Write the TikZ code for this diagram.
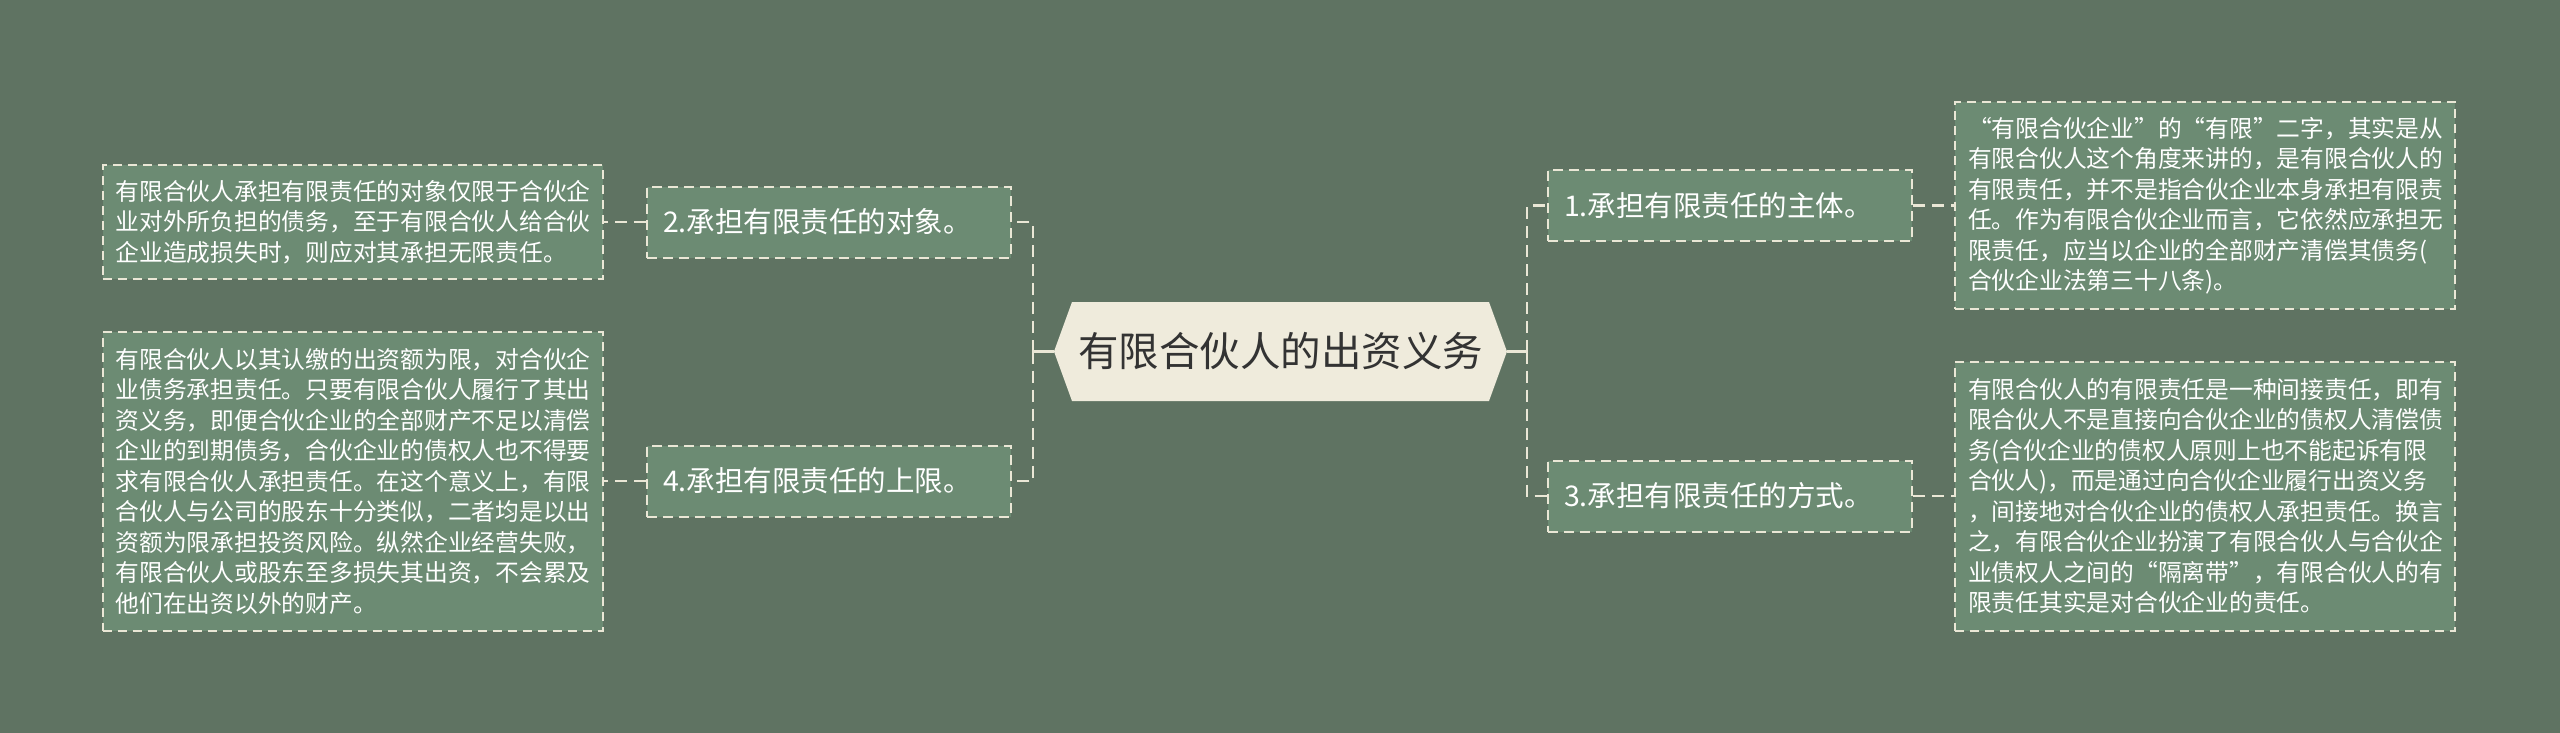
\documentclass[tikz,border=0pt]{standalone}
\usepackage{fontspec}
\setmainfont{Noto Sans CJK SC}
\usetikzlibrary{calc}
\definecolor{bgcol}{HTML}{5F7362}
\definecolor{boxfill}{HTML}{6C8B73}
\definecolor{cream}{HTML}{EFEBDC}
\definecolor{linecol}{HTML}{EAE7D6}
\definecolor{hubtext}{HTML}{333333}
\tikzset{
  topicbox/.style={draw=linecol, line width=2pt, dash pattern=on 10pt off 6pt, fill=boxfill,
    text=white, font=\fontsize{28.5pt}{34pt}\selectfont, align=left, text width=332pt,
    inner xsep=16pt, inner ysep=0pt, minimum height=71pt},
  detailbox/.style={draw=linecol, line width=2pt, dash pattern=on 9pt off 6pt, fill=boxfill,
    text=white, font=\fontsize{23.75pt}{30.5pt}\selectfont, align=left, text width=474pt,
    inner xsep=13pt, inner ysep=0pt},
  dashcon/.style={draw=linecol, line width=2.5pt, dash pattern=on 12pt off 7pt},
  solidcon/.style={draw=linecol, line width=2.5pt},
  hubnode/.style={fill=bgcol, minimum width=453pt, minimum height=99pt, inner sep=0pt,
    text=hubtext, font=\fontsize{40.5pt}{46pt}\selectfont,
    path picture={\fill[cream] (path picture bounding box.west)
      -- ([xshift=18pt]path picture bounding box.north west)
      -- ([xshift=-18pt]path picture bounding box.north east)
      -- (path picture bounding box.east)
      -- ([xshift=-18pt]path picture bounding box.south east)
      -- ([xshift=18pt]path picture bounding box.south west) -- cycle;}}
}
\begin{document}
\begin{tikzpicture}[x=1pt,y=-1pt]
\fill[bgcol] (0,0) rectangle (2560,733);
\useasboundingbox (0,0) rectangle (2560,733);

\node[hubnode] (hub) at (1280.5,351.5) {有限合伙人的出资义务};

\node[topicbox] (n2) at (829,222) {2.承担有限责任的对象。};
\node[topicbox] (n4) at (829,481) {4.承担有限责任的上限。};
\node[topicbox] (n1) at (1730,205.5) {1.承担有限责任的主体。};
\node[topicbox] (n3) at (1730,496) {3.承担有限责任的方式。};

\node[detailbox, minimum height=114pt] (d2) at (352.5,222) {有限合伙人承担有限责任的对象仅限于合伙企\\
业对外所负担的债务，至于有限合伙人给合伙\\
企业造成损失时，则应对其承担无限责任。};

\node[detailbox, minimum height=299pt] (d4) at (352.5,481) {有限合伙人以其认缴的出资额为限，对合伙企\\
业债务承担责任。只要有限合伙人履行了其出\\
资义务，即便合伙企业的全部财产不足以清偿\\
企业的到期债务，合伙企业的债权人也不得要\\
求有限合伙人承担责任。在这个意义上，有限\\
合伙人与公司的股东十分类似，二者均是以出\\
资额为限承担投资风险。纵然企业经营失败，\\
有限合伙人或股东至多损失其出资，不会累及\\
他们在出资以外的财产。};

\node[detailbox, minimum height=206pt] (d1) at (2205,205.5) {“有限合伙企业”的“有限”二字，其实是从\\
有限合伙人这个角度来讲的，是有限合伙人的\\
有限责任，并不是指合伙企业本身承担有限责\\
任。作为有限合伙企业而言，它依然应承担无\\
限责任，应当以企业的全部财产清偿其债务(\\
合伙企业法第三十八条)。};

\node[detailbox, minimum height=269pt] (d3) at (2205,496) {有限合伙人的有限责任是一种间接责任，即有\\
限合伙人不是直接向合伙企业的债权人清偿债\\
务(合伙企业的债权人原则上也不能起诉有限\\
合伙人)，而是通过向合伙企业履行出资义务\\
，间接地对合伙企业的债权人承担责任。换言\\
之，有限合伙企业扮演了有限合伙人与合伙企\\
业债权人之间的“隔离带”，有限合伙人的有\\
限责任其实是对合伙企业的责任。};

\coordinate (busL) at ($(hub.west)+(-21,0)$);
\coordinate (busR) at ($(hub.east)+(20,0)$);
\draw[solidcon] (hub.west) -- (busL);
\draw[solidcon] (hub.east) -- (busR);
\draw[dashcon] (busL) |- (n2.east);
\draw[dashcon] (busL) |- (n4.east);
\draw[dashcon] (busR) |- (n1.west);
\draw[dashcon] (busR) |- (n3.west);

\draw[dashcon] (n2.west) -- (d2.east);
\draw[dashcon] (n4.west) -- (d4.east);
\draw[dashcon] (n1.east) -- (d1.west);
\draw[dashcon] (n3.east) -- (d3.west);
\end{tikzpicture}
\end{document}
